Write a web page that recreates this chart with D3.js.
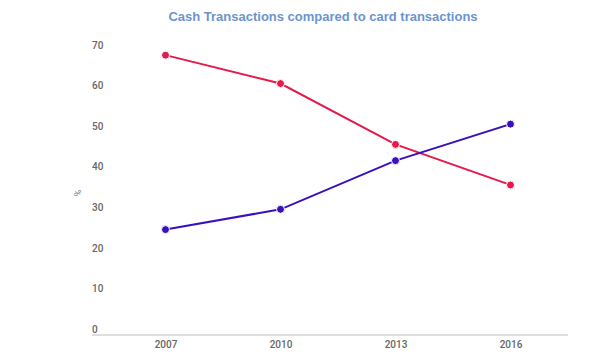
<!DOCTYPE html>
<html><head><meta charset="utf-8">
<script src="https://cdn.jsdelivr.net/npm/d3@7"></script>
<style>body{margin:0;background:#fff;}svg{display:block;}</style>
</head><body>
<svg id="c" width="606" height="359"></svg>
<script>
const years = ["2007","2010","2013","2016"];
const cashValues = [67.5, 60.5, 45.5, 35.5];
const cardValues = [24.5, 29.5, 41.5, 50.5];
const yTicks = [0,10,20,30,40,50,60,70];
const title = "Cash Transactions compared to card transactions";
const yLabel = "%";

const svg = d3.select("#c");
const x = d3.scalePoint().domain(years).range([108, 568]).padding(0.5);
const y = d3.scaleLinear().domain([0,70]).range([329, 45]);

svg.append("text").attr("x", 323).attr("y", 21).attr("text-anchor","middle")
  .attr("font-family","Liberation Sans, Arial, sans-serif").attr("font-size",13).attr("font-weight","bold")
  .attr("fill","#6b94cf").text(title);

// baseline
svg.append("line").attr("x1",92).attr("x2",568).attr("y1",y(0)+6).attr("y2",y(0)+6)
  .attr("stroke","#bdbdbd").attr("stroke-width",1);

// y axis labels
const yAxis = d3.axisLeft(y).tickValues(yTicks).tickSize(0).tickPadding(0);
const gy = svg.append("g").attr("transform","translate(92,0)").call(yAxis);
gy.select(".domain").remove();
gy.selectAll("text").attr("text-anchor","start").attr("x",0)
  .attr("font-family","Roboto, sans-serif").attr("font-size",10).attr("font-weight",500).attr("fill","#666");

// x axis labels
const xAxis = d3.axisBottom(x).tickSize(0).tickPadding(0);
const gx = svg.append("g").attr("transform",`translate(0,${y(0)+12})`).call(xAxis);
gx.select(".domain").remove();
gx.selectAll("text").attr("font-family","Roboto, sans-serif").attr("font-size",10).attr("font-weight",500).attr("fill","#666");

svg.append("text").attr("transform","translate(81,193) rotate(-90)").attr("text-anchor","middle")
  .attr("font-family","Roboto, sans-serif").attr("font-size",9).attr("fill","#777").text(yLabel);

const series = [
  {values: cashValues, color: "#e5194b"},
  {values: cardValues, color: "#3a0fbd"}
];
const line = d3.line().x((d,i)=>x(years[i])).y(d=>y(d));
series.forEach(s=>{
  svg.append("path").datum(s.values).attr("d",line).attr("fill","none")
    .attr("stroke",s.color).attr("stroke-width",2);
  svg.selectAll(null).data(s.values).enter().append("circle")
    .attr("cx",(d,i)=>x(years[i])).attr("cy",d=>y(d)).attr("r",4)
    .attr("fill",s.color).attr("stroke","#fff").attr("stroke-width",1);
});
</script>
</body></html>
